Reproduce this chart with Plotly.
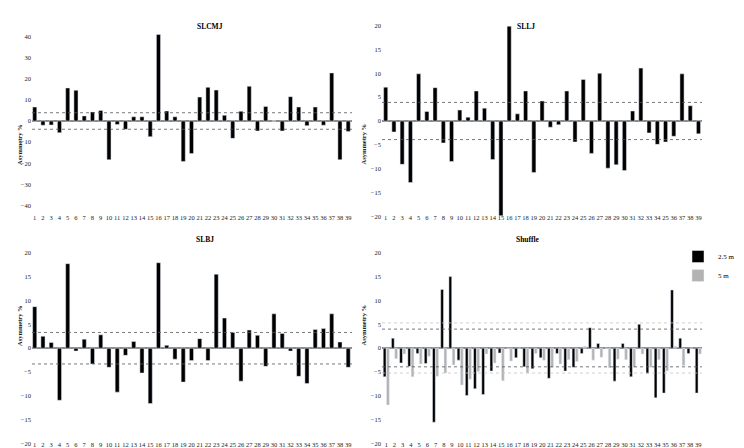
import plotly.graph_objects as go

W, H = 744, 448

# ---------------- data ----------------
participants = list(range(1, 40))
tick_labels = [str(i) for i in participants]
tick_labels_sllj = [str(i) for i in participants]
tick_labels_sllj[34] = "25"  # label as printed in the original figure

slcmj = [6.6, -2.0, -1.9, -5.5, 15.6, 14.5, 2.4, 4.3, 5.0, -18.3,
         -1.7, -3.9, 2.0, 2.0, -7.4, 40.8, 4.7, 2.0, -19.1, -15.4,
         11.3, 15.9, 14.6, 2.7, -8.2, 4.6, 16.4, -4.7, 6.9, 0.0,
         -4.7, 11.5, 6.6, -2.2, 6.6, -2.0, 22.7, -18.3, -4.9]

sllj = [7.1, -2.3, -9.1, -12.9, 9.9, 2.0, 7.0, -4.6, -8.5, 2.3,
        0.8, 6.3, 2.7, -8.1, -19.9, 19.9, 1.5, 6.3, -10.8, 4.2,
        -1.3, -0.8, 6.3, -4.4, 8.7, -6.8, 10.0, -9.9, -9.2, -10.4,
        2.1, 11.1, -2.5, -4.9, -4.4, -3.2, 9.9, 3.2, -2.7]

slbj = [8.7, 2.5, 1.2, -10.9, 17.7, -0.6, 1.9, -3.3, 2.8, -4.0,
        -9.2, -1.5, 1.4, -5.2, -11.6, 17.9, 0.6, -2.3, -7.1, -2.6,
        2.0, -2.6, 15.5, 6.3, 3.3, -6.9, 3.8, 2.7, -3.8, 7.2,
        3.1, -0.6, -5.9, -7.4, 3.9, 4.1, 7.2, 1.3, -4.0]

shuffle_25m = [-6.0, 2.1, -3.1, -3.8, -1.1, -3.2, -15.5, 12.3, 15.0, -2.5,
               -9.9, -8.5, -9.7, -4.8, -1.0, 0.0, -2.0, -3.9, -4.3, -2.0,
               -6.3, -1.1, -4.8, -4.0, -1.1, 4.3, 1.0, 0.0, -6.9, 1.0,
               -6.0, 5.0, -5.3, -10.4, -9.4, 12.2, 2.1, -1.1, -9.4]

shuffle_5m = [-11.9, -2.2, -1.2, -6.0, -3.3, -1.7, -5.9, -5.2, -3.5, -7.7,
              -6.5, -4.9, -1.2, -3.1, -6.8, -2.7, 0.0, -5.2, -1.1, -2.5,
              -4.0, -3.3, -2.4, -2.8, 0.4, -2.5, -1.9, -4.1, -2.3, -2.4,
              -4.0, -1.2, -4.0, -2.4, -4.8, 0.4, -3.6, 0.0, -1.2]

thr_slcmj = [3.9, -3.9]
thr_sllj = [3.9, -3.9]
thr_slbj = [3.3, -3.3]
thr_shuffle_25m = [4.0, -3.9]
thr_shuffle_5m = [5.3, -5.2]

titles = ["SLCMJ", "SLLJ", "SLBJ", "Shuffle"]
y_title = "Asymmetry %"
series_names = ["2.5 m", "5 m"]

# ---------------- styling ----------------
FONT = "Liberation Serif, Times New Roman, serif"
BLACK = "#000000"
GREY = "#b3b3b3"


def fx(px):
    return px / W


def fy(py):
    return 1 - py / H


fig = go.Figure()

fig.add_trace(go.Bar(x=participants, y=slcmj, marker_color=BLACK, width=0.5,
                     xaxis="x", yaxis="y", showlegend=False))
fig.add_trace(go.Bar(x=participants, y=sllj, marker_color=BLACK, width=0.5,
                     xaxis="x2", yaxis="y2", showlegend=False))
fig.add_trace(go.Bar(x=participants, y=slbj, marker_color=BLACK, width=0.5,
                     xaxis="x3", yaxis="y3", showlegend=False))
fig.add_trace(go.Bar(x=participants, y=shuffle_25m, marker_color=BLACK,
                     name=series_names[0], xaxis="x4", yaxis="y4"))
fig.add_trace(go.Bar(x=participants, y=shuffle_5m, marker_color=GREY,
                     name=series_names[1], xaxis="x4", yaxis="y4"))

tickfont = dict(family=FONT, size=6.5, color="#222")


def xax(domain, rng, anchor, labels):
    return dict(domain=domain, range=rng, anchor=anchor, showgrid=False,
                zeroline=False, showline=False, ticks="",
                tickmode="array", tickvals=participants, ticktext=labels,
                tickangle=0, tickfont=tickfont, automargin=False,
                ticklabelstandoff=-4)


def yax(domain, rng, anchor, dtick):
    return dict(domain=domain, range=rng, anchor=anchor, showgrid=False,
                zeroline=True, zerolinecolor="#8c8c8c", zerolinewidth=2,
                showline=False, ticks="", dtick=dtick, tick0=0,
                tickfont=tickfont, automargin=False)


top_y = [fy(208.3), fy(17.7)]
bot_y = [fy(435.7), fy(244.7)]
left_x = [fx(24), fx(344)]
right_x = [fx(374), fx(694)]

fig.update_layout(
    xaxis=xax(left_x, [0.67, 39.46], "y", tick_labels),
    yaxis=yax(top_y, [-45, 45], "x", 10),
    xaxis2=xax(right_x, [0.55, 39.43], "y2", tick_labels_sllj),
    yaxis2=yax(top_y, [-20, 20], "x2", 5),
    xaxis3=xax(left_x, [0.67, 39.46], "y3", tick_labels),
    yaxis3=yax(bot_y, [-20, 20], "x3", 5),
    xaxis4=xax(right_x, [0.48, 39.45], "y4", tick_labels),
    yaxis4=yax(bot_y, [-20, 20], "x4", 5),
)


# threshold (dotted) lines
def hlines(vals, axis_id, color, width=0.8):
    for v in vals:
        fig.add_shape(type="line", xref=f"x{axis_id} domain", yref=f"y{axis_id}",
                      x0=0, x1=1, y0=v, y1=v,
                      line=dict(color=color, width=width, dash="dot"))


hlines(thr_slcmj, "", "#555")
hlines(thr_sllj, "2", "#555")
hlines(thr_slbj, "3", "#555")
hlines(thr_shuffle_5m, "4", "#c4c4c4")
hlines(thr_shuffle_25m, "4", "#555")

# panel titles
title_pos = [(187, 12), (529, 12), (186, 231), (534, 231)]
for t, (px, py) in zip(titles, title_pos):
    fig.add_annotation(text=f"<b>{t}</b>", x=fx(px), y=fy(py), xref="paper",
                       yref="paper", showarrow=False,
                       font=dict(family=FONT, size=7.5, color=BLACK))

# y axis titles
ytitle_pos = [(6, 114), (355, 114), (6, 340), (355, 340)]
for (px, py) in ytitle_pos:
    fig.add_annotation(text=f"<b>{y_title}</b>", x=fx(px), y=fy(py), xref="paper",
                       yref="paper", showarrow=False, textangle=-90,
                       font=dict(family=FONT, size=6.5, color="#222"))

fig.update_layout(
    width=W, height=H, autosize=False,
    margin=dict(l=0, r=0, t=0, b=0, autoexpand=False),
    paper_bgcolor="white", plot_bgcolor="white",
    barmode="group", bargap=0.2, bargroupgap=0.15,
    font=dict(family=FONT, size=7, color=BLACK),
    legend=dict(x=fx(670), y=fy(234), xanchor="left", yanchor="top",
                font=dict(family=FONT, size=7, color=BLACK),
                bgcolor="rgba(0,0,0,0)", tracegroupgap=0),
)

fig.write_html("out.html")
